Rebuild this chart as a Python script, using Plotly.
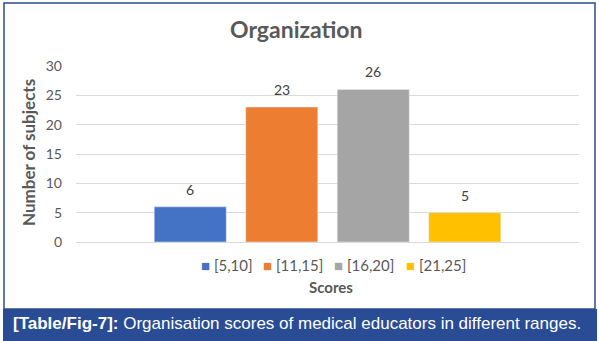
import plotly.graph_objects as go

# ---- data ----
categories = ["[5,10]", "[11,15]", "[16,20]", "[21,25]"]
values = [6, 23, 26, 5]
colors = ["#4472C4", "#ED7D31", "#A5A5A5", "#FFC000"]
y_ticks = [0, 5, 10, 15, 20, 25, 30]
title_text = "Organization"
y_title = "Number of subjects"
x_title = "Scores"
caption_bold = "[Table/Fig-7]:"
caption_rest = "Organisation scores of medical educators in different ranges."

# ---- layout geometry (pixels) ----
W, H = 599, 341
L, R, T, B = 76, 579, 66, 242   # plot area edges
PW, PH = R - L, B - T


def px(x):
    return (x - L) / PW


def py(y):
    return (B - y) / PH


fig = go.Figure()
for cat, val, col in zip(categories, values, colors):
    fig.add_trace(go.Bar(x=[cat], y=[val], name=cat, marker_color=col,
                         width=0.787, showlegend=False))

annotations = []
# data labels
for cat, val in zip(categories, values):
    annotations.append(dict(x=cat, y=val, xref="x", yref="y", text=str(val),
                            showarrow=False, yanchor="middle", yshift=17.5,
                            font=dict(family="Lato", size=14, color="#404040")))

# title
annotations.append(dict(x=px(296), y=py(29), xref="paper", yref="paper",
                        text="<b>%s</b>" % title_text, showarrow=False,
                        xanchor="center", yanchor="middle",
                        font=dict(family="Lato", size=23, color="#595959")))
# y-axis title
annotations.append(dict(x=px(28), y=py(153), xref="paper", yref="paper",
                        text="<b>%s</b>" % y_title, showarrow=False, textangle=-90,
                        xanchor="center", yanchor="middle",
                        font=dict(family="Lato", size=17, color="#595959")))
# x-axis title
annotations.append(dict(x=px(331), y=py(287), xref="paper", yref="paper",
                        text="<b>%s</b>" % x_title, showarrow=False,
                        xanchor="center", yanchor="middle",
                        font=dict(family="Lato", size=15, color="#595959")))
# legend (manual, compact)
legend_x = [199, 261, 332, 404]
for cat, col, lx in zip(categories, colors, legend_x):
    annotations.append(dict(x=px(lx), y=py(265), xref="paper", yref="paper",
                            text='<span style="color:%s">■</span> %s' % (col, cat),
                            showarrow=False, xanchor="left", yanchor="middle",
                            font=dict(family="Lato", size=15, color="#595959")))
# caption
annotations.append(dict(x=px(11), y=py(323), xref="paper", yref="paper",
                        text="<b>%s</b> %s" % (caption_bold, caption_rest),
                        showarrow=False, xanchor="left", yanchor="middle",
                        font=dict(family="Liberation Sans", size=17, color="white")))

shapes = [
    dict(type="rect", xref="paper", yref="paper", x0=px(4), x1=px(595),
         y0=py(3), y1=py(309), line=dict(color="#2B4C8F", width=1.5),
         fillcolor="rgba(0,0,0,0)", layer="below"),
    dict(type="rect", xref="paper", yref="paper", x0=px(3), x1=px(597),
         y0=py(309), y1=py(341), line=dict(width=0),
         fillcolor="#2A4C94", layer="below"),
]

fig.update_layout(
    width=W, height=H,
    margin=dict(l=L, r=W - R, t=T, b=H - B),
    paper_bgcolor="white", plot_bgcolor="white",
    barmode="overlay",
    showlegend=False,
    annotations=annotations,
    shapes=shapes,
    xaxis=dict(type="category", categoryorder="array", categoryarray=categories,
               range=[-1.2486, 4.2486], showticklabels=False, showgrid=False,
               zeroline=False, showline=False, ticks=""),
    yaxis=dict(range=[0, 30], tickvals=y_ticks, showgrid=True,
               gridcolor="#D9D9D9", gridwidth=1, zeroline=True,
               zerolinecolor="#D9D9D9", zerolinewidth=1, showline=False,
               ticklabelstandoff=13,
               tickfont=dict(family="Lato", size=14, color="#595959")),
)

fig.write_html("out.html")
